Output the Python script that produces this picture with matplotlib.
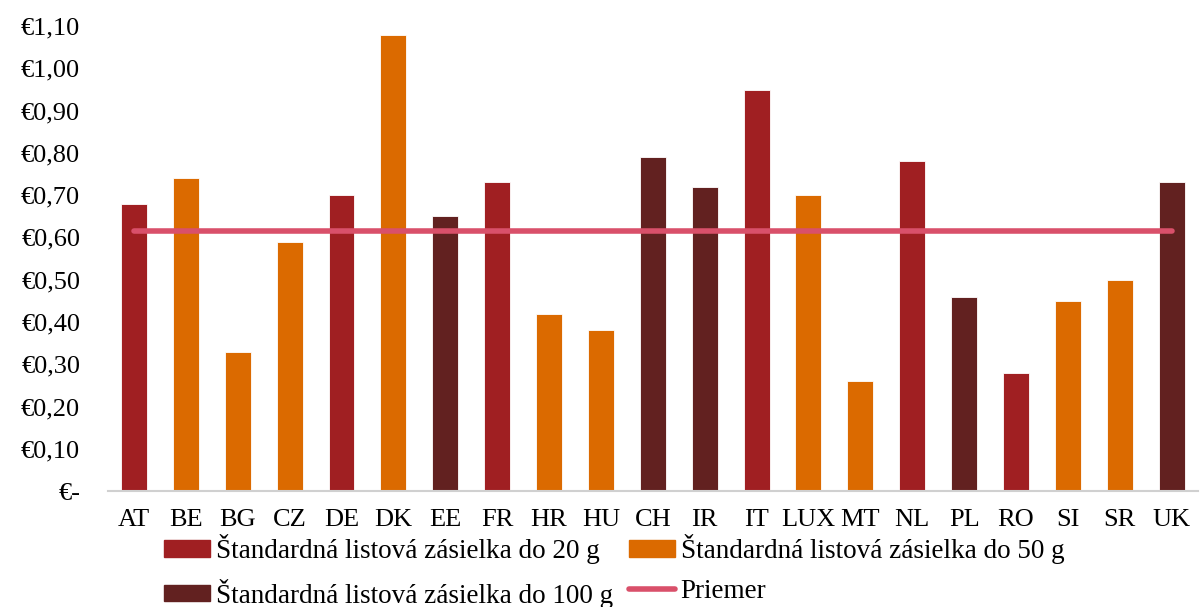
import numpy as np
import matplotlib
matplotlib.use('Agg')
import matplotlib.pyplot as plt
from matplotlib.patches import Patch
from matplotlib.lines import Line2D

# data
countries = ['AT', 'BE', 'BG', 'CZ', 'DE', 'DK', 'EE', 'FR', 'HR', 'HU', 'CH',
             'IR', 'IT', 'LUX', 'MT', 'NL', 'PL', 'RO', 'SI', 'SR', 'UK']
prices = [0.68, 0.74, 0.33, 0.59, 0.70, 1.08, 0.65, 0.73, 0.42, 0.38, 0.79,
          0.72, 0.95, 0.70, 0.26, 0.78, 0.46, 0.28, 0.45, 0.50, 0.73]
# 20 = do 20 g, 50 = do 50 g, 100 = do 100 g
weight_class = [20, 50, 50, 50, 20, 50, 100, 20, 50, 50, 100,
                100, 20, 50, 50, 20, 100, 20, 50, 50, 100]
average = 0.615
yticks = [0.0, 0.1, 0.2, 0.3, 0.4, 0.5, 0.6, 0.7, 0.8, 0.9, 1.0, 1.1]

labels = {20: 'Štandardná listová zásielka do 20 g',
          50: 'Štandardná listová zásielka do 50 g',
          100: 'Štandardná listová zásielka do 100 g'}
colors = {20: '#A01F22', 50: '#DB6A00', 100: '#622120'}
line_color = '#D9506A'

plt.rcParams['font.family'] = ['Liberation Serif', 'DejaVu Serif']

fig = plt.figure(figsize=(12, 6.07), dpi=100)
ax = fig.add_axes([0.09, 0.191, 0.908, 0.766])

x = np.arange(len(countries))
bar_colors = [colors[w] for w in weight_class]
ax.bar(x, prices, width=0.5, color=bar_colors, edgecolor='white', linewidth=0.6)
ax.plot([x[0], x[-1]], [average, average], color=line_color, lw=4,
        solid_capstyle='round')

ax.set_xlim(-0.5, len(countries) - 0.5)
ax.set_ylim(0, 1.1)
ax.set_xticks(x)
ax.set_xticklabels(countries, fontsize=19)
ax.set_yticks(yticks)
ax.set_yticklabels(['€-' if v == 0 else '€' + f'{v:.2f}'.replace('.', ',') for v in yticks],
                   fontsize=19)
ax.tick_params(length=0)
ax.tick_params(axis='y', pad=20)
ax.tick_params(axis='x', pad=13)
for s in ['top', 'right', 'left']:
    ax.spines[s].set_visible(False)
ax.spines['bottom'].set_color('#D0D0D0')
ax.spines['bottom'].set_linewidth(1.5)

handles = [Patch(color=colors[20], label=labels[20]),
           Patch(color=colors[100], label=labels[100]),
           Patch(color=colors[50], label=labels[50]),
           Line2D([0], [0], color=line_color, lw=4, solid_capstyle='round', label='Priemer')]
fig.legend(handles=handles, ncol=2, loc='lower left', bbox_to_anchor=(0.128, -0.021),
           frameon=False, fontsize=19.5, handlelength=1.7, handleheight=0.55,
           handletextpad=0.2, columnspacing=0.6, labelspacing=0.55, borderaxespad=0)

fig.savefig('out.png', dpi=100)
